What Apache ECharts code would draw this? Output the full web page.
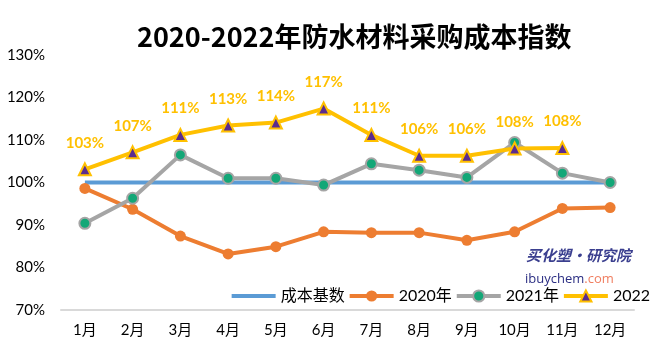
<!DOCTYPE html>
<html>
<head>
<meta charset="utf-8">
<script src="https://cdn.jsdelivr.net/npm/echarts@6/dist/echarts.min.js"></script>
<style>
  html, body { margin: 0; padding: 0; background: #fff; }
  #chart { width: 655px; height: 351px; }
</style>
</head>
<body>
<div id="chart"></div>
<script>
// 月份
const months = ["1月", "2月", "3月", "4月", "5月", "6月", "7月", "8月", "9月", "10月", "11月", "12月"];
// 各系列数据 (%)
const base = [100, 100, 100, 100, 100, 100, 100, 100, 100, 100, 100, 100];
const y2020 = [98.6, 93.7, 87.4, 83.2, 84.9, 88.4, 88.2, 88.2, 86.4, 88.4, 93.9, 94.1];
const y2021 = [90.4, 96.3, 106.5, 101.0, 101.0, 99.4, 104.4, 102.9, 101.2, 109.4, 102.2, 100.0];
const y2022 = [103.1, 107.1, 111.2, 113.4, 114.1, 117.4, 111.2, 106.3, 106.3, 108.0, 108.1];
const seriesNames = ["成本基数", "2020年", "2021年", "2022"];

const baseFont = "Lato, 'Noto Sans CJK SC', sans-serif";

const chart = echarts.init(document.getElementById("chart"));
chart.setOption({
  animation: false,
  backgroundColor: "#fff",
  title: {
    text: "2020-2022年防水材料采购成本指数",
    left: 132,
    top: 18,
    textStyle: {
      fontFamily: "'Noto Sans CJK SC', sans-serif",
      fontSize: 27,
      fontWeight: "bold",
      color: "#000"
    }
  },
  legend: {
    data: [
      { name: seriesNames[0], icon: "path://M0,0 L46,0 L46,4 L0,4 Z" },
      seriesNames[1], seriesNames[2], seriesNames[3]
    ],
    right: 0,
    top: 283,
    itemWidth: 44,
    itemHeight: 14,
    itemGap: 3,
    lineStyle: { width: 4 },
    textStyle: { fontFamily: baseFont, fontSize: 16, color: "#000" }
  },
  grid: { left: 61, right: 21, top: 55, bottom: 41 },
  xAxis: {
    type: "category",
    data: months,
    axisLine: { lineStyle: { color: "#d9d9d9", width: 2 } },
    axisTick: { show: false },
    axisLabel: { color: "#000", fontSize: 15, fontFamily: baseFont, margin: 13 }
  },
  yAxis: {
    type: "value",
    min: 70,
    max: 130,
    interval: 10,
    splitLine: { show: false },
    axisLine: { show: false },
    axisLabel: { color: "#000", fontSize: 15, fontFamily: baseFont, margin: 16, formatter: "{value}%" }
  },
  series: [
    {
      name: seriesNames[0],
      type: "line",
      data: base,
      symbol: "none",
      lineStyle: { color: "#5B9BD5", width: 4 },
      itemStyle: { color: "#5B9BD5" }
    },
    {
      name: seriesNames[1],
      type: "line",
      data: y2020,
      symbol: "circle",
      symbolSize: 11,
      lineStyle: { color: "#ED7D31", width: 4 },
      itemStyle: { color: "#ED7D31" }
    },
    {
      name: seriesNames[2],
      type: "line",
      data: y2021,
      symbol: "circle",
      symbolSize: 11,
      lineStyle: { color: "#A5A5A5", width: 4 },
      itemStyle: { color: "#13A777", borderColor: "#A5A5A5", borderWidth: 2 }
    },
    {
      name: seriesNames[3],
      type: "line",
      data: y2022,
      symbol: "triangle",
      symbolSize: 12,
      lineStyle: { color: "#FFC000", width: 4 },
      itemStyle: { color: "#5B2C8F", borderColor: "#FFC000", borderWidth: 2 },
      label: {
        show: true,
        position: "top",
        distance: 12,
        color: "#FFC000",
        fontSize: 15,
        fontWeight: "bold",
        fontFamily: baseFont,
        formatter: (p) => Math.round(p.value) + "%"
      }
    }
  ],
  graphic: [
    {
      type: "text",
      left: 526,
      top: 248,
      style: {
        text: "买化塑·研究院",
        fontFamily: "'Noto Sans CJK SC', sans-serif",
        fontSize: 15,
        fontWeight: "bold",
        fontStyle: "italic",
        fill: "#3B3F8F"
      }
    },
    {
      type: "text",
      left: 525,
      top: 273,
      style: {
        rich: {
          a: { fontFamily: "'Open Sans', sans-serif", fontSize: 13, fill: "#2B2E83" },
          b: { fontFamily: "'Open Sans', sans-serif", fontSize: 13, fill: "#F07E60" }
        },
        text: "{a|ibuychem}{b|.com}"
      }
    }
  ]
});
</script>
</body>
</html>
